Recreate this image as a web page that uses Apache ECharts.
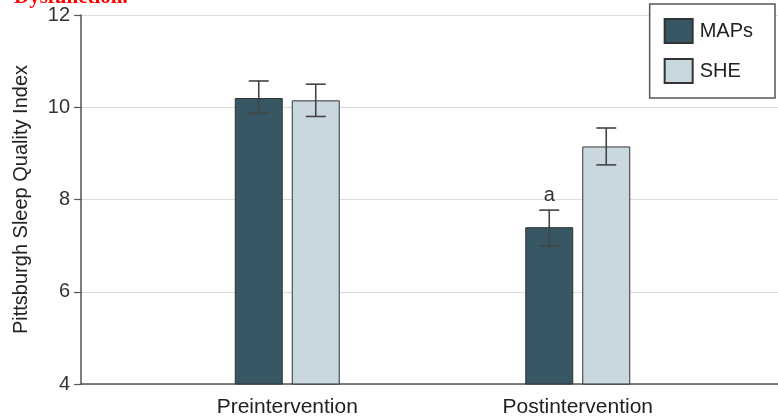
<!DOCTYPE html>
<html>
<head>
<meta charset="utf-8">
<script src="https://cdn.jsdelivr.net/npm/echarts@6/dist/echarts.min.js"></script>
<style>html,body{margin:0;padding:0;background:#fff}#c{width:778px;height:419px}</style>
</head>
<body>
<div id="c"></div>
<script>
const categories = ['Preintervention', 'Postintervention'];
const seriesNames = ['MAPs', 'SHE'];
const mapsMean = [10.2, 7.4];
const mapsLow = [9.87, 6.99];
const mapsHigh = [10.57, 7.77];
const sheMean = [10.15, 9.15];
const sheLow = [9.8, 8.75];
const sheHigh = [10.5, 9.55];
const mapsMarks = ['', 'a'];
const yTicks = [4, 6, 8, 10, 12];

const FONT = 'Liberation Sans, Arial, sans-serif';
const chart = echarts.init(document.getElementById('c'));
const BW = 48, GAP = 9;
const off = (BW + GAP) / 2;

function errSeries(name, low, high, sign, marks) {
  return {
    type: 'custom', name: name + ' err', xAxisIndex: 1, yAxisIndex: 1, z: 5,
    data: categories.map((c, i) => [i, low[i], high[i], marks ? marks[i] : '']),
    renderItem: function (params, api) {
      const i = api.value(0);
      const lo = api.coord([i, api.value(1)]);
      const hi = api.coord([i, api.value(2)]);
      const x = lo[0] + sign * off;
      const cap = 10;
      const st = { stroke: '#444', lineWidth: 1.6 };
      const children = [
        { type: 'line', shape: { x1: x, y1: lo[1], x2: x, y2: hi[1] }, style: st },
        { type: 'line', shape: { x1: x - cap, y1: lo[1], x2: x + cap, y2: lo[1] }, style: st },
        { type: 'line', shape: { x1: x - cap, y1: hi[1], x2: x + cap, y2: hi[1] }, style: st }
      ];
      const m = marks ? marks[i] : '';
      if (m) {
        children.push({ type: 'text', style: { text: m, x: x, y: hi[1] - 5, textAlign: 'center', textVerticalAlign: 'bottom', fontSize: 20, fontFamily: FONT, fill: '#333' } });
      }
      return { type: 'group', children: children };
    }
  };
}

chart.setOption({
  animation: false,
  graphic: [{
    type: 'text', left: 14, top: -13,
    style: { text: 'Dysfunction.', fontSize: 21, fontWeight: 'bold', fontFamily: 'Liberation Serif, serif', fill: '#ff0000' }
  }],
  grid: [
    { left: 81, right: 0, top: 15, bottom: 35 },
    { left: 142, right: 55, top: 15, bottom: 35 }
  ],
  legend: {
    data: seriesNames, orient: 'vertical', right: 3, top: 4,
    itemWidth: 28, itemHeight: 24, itemGap: 14,
    padding: [14, 22, 14, 14],
    borderColor: '#555', borderWidth: 1.5, backgroundColor: '#fff',
    icon: 'rect',
    textStyle: { fontSize: 20, fontFamily: FONT, color: '#222', padding: [0, 0, 0, 2] }
  },
  xAxis: [
    { type: 'value', gridIndex: 0, min: 0, max: 1, axisLine: { show: true, onZero: false, lineStyle: { color: '#555', width: 1.5 } }, axisTick: { show: false }, axisLabel: { show: false }, splitLine: { show: false } },
    { type: 'category', gridIndex: 1, data: categories, axisLine: { show: false }, axisTick: { show: false },
      axisLabel: { fontSize: 21, fontFamily: FONT, color: '#222', margin: 13 } }
  ],
  yAxis: [
    { type: 'value', gridIndex: 0, min: 4, max: 12, interval: 2,
      name: 'Pittsburgh Sleep Quality Index', nameLocation: 'middle', nameGap: 50, nameRotate: 90,
      nameTextStyle: { fontSize: 20, fontFamily: FONT, color: '#222' },
      axisLine: { show: true, lineStyle: { color: '#555', width: 1.5 } },
      axisTick: { show: true, length: 7, lineStyle: { color: '#555', width: 1.2 } },
      axisLabel: { fontSize: 20, fontFamily: FONT, color: '#333', margin: 11, formatter: v => yTicks.includes(v) ? String(v) : '' },
      splitLine: { show: true, lineStyle: { color: '#ddd', width: 1.2 } } },
    { type: 'value', gridIndex: 1, min: 4, max: 12, interval: 2, show: false, splitLine: { show: false } }
  ],
  series: [
    { name: 'MAPs', type: 'bar', xAxisIndex: 1, yAxisIndex: 1, data: mapsMean, barWidth: BW, barGap: (GAP / BW * 100) + '%',
      itemStyle: { color: '#365763', borderColor: '#333', borderWidth: 1 } },
    { name: 'SHE', type: 'bar', xAxisIndex: 1, yAxisIndex: 1, data: sheMean, barWidth: BW,
      itemStyle: { color: '#c9d8df', borderColor: '#333', borderWidth: 1 } },
    errSeries('MAPs', mapsLow, mapsHigh, -1, mapsMarks),
    errSeries('SHE', sheLow, sheHigh, 1, null)
  ]
});
</script>
</body>
</html>
